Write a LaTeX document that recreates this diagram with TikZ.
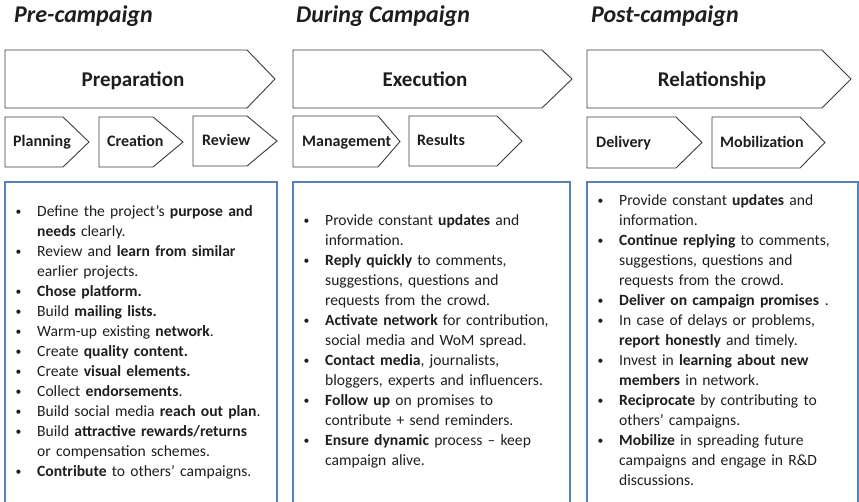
\documentclass[tikz,border=0pt]{standalone}
\usepackage{fontspec}
\setmainfont{Carlito}
\definecolor{txt}{HTML}{1E1E1E}
\definecolor{chevline}{HTML}{3C3C3C}
\definecolor{boxline}{HTML}{5A80B8}
\newcommand\chevron[5]{%
  \draw[chev] (#1,#4) -- (#2,#4) -- (#3,{(#4+#5)/2}) -- (#2,#5) -- (#1,#5) -- cycle;}
\newcommand\bitem{\leavevmode\llap{\makebox[22pt][l]{\hspace{0.5pt}\raisebox{0.8pt}{\scalebox{0.75}{\textbullet}}}}}
\begin{document}
\begin{tikzpicture}[x=1pt,y=-1pt,
  every node/.style={text=txt},
  chev/.style={draw=chevline, line width=0.9pt, line join=miter},
  boxframe/.style={draw=boxline, line width=1.2pt},
  hdr/.style={anchor=base west, inner sep=0, font=\fontsize{24}{28}\selectfont\bfseries\itshape},
  mainlbl/.style={anchor=base, inner sep=0, font=\fontsize{21}{25}\selectfont\bfseries},
  sublbl/.style={anchor=base west, inner sep=0, font=\fontsize{16}{19}\selectfont\bfseries},
  listtext/.style={anchor=base west, inner sep=0, align=left, text width=300pt, font=\fontsize{15.6}{20}\selectfont}]
\useasboundingbox[fill=white] (0,0) rectangle (859,502);

% headers
\node[hdr] (hpre) at (14,23) {Pre-campaign};
\node[hdr] (hdur) at (296,23) {During Campaign};
\node[hdr] (hpost) at (591,23) {Post-campaign};

% main chevrons
\chevron{5}{247}{275}{50}{108}
\chevron{293}{542}{572}{50}{108}
\chevron{587}{822}{851}{50}{108}
\node[mainlbl] (prep) at (133,87) {Preparation};
\node[mainlbl] (exec) at (425,87) {Execution};
\node[mainlbl] (rel) at (712,87) {Relationship};

% sub chevrons
\chevron{5}{63}{89}{117}{167}
\chevron{99}{153}{183}{117}{167}
\chevron{193}{247}{277}{116}{166}
\chevron{293}{378}{400}{116}{167}
\chevron{409}{497}{522}{116}{166}
\chevron{587}{676}{702}{117}{168}
\chevron{712}{800}{825}{117}{168}
\node[sublbl] (plan) at (13,147) {Planning};
\node[sublbl] (crea) at (107,147) {Creation};
\node[sublbl] (revi) at (202,146) {Review};
\node[sublbl] (mana) at (302,147) {Management};
\node[sublbl] (resu) at (417,146) {Results};
\node[sublbl] (deli) at (596,148) {Delivery};
\node[sublbl] (mobi) at (720,148) {Mobilization};

% list boxes (open at the bottom)
\draw[boxframe] (5,504) -- (5,182) -- (277,182) -- (277,504);
\draw[boxframe] (293,504) -- (293,182) -- (570,182) -- (570,504);
\draw[boxframe] (587,504) -- (587,182) -- (858,182) -- (858,504);

\node[listtext] (lpre) at (37,216.7) {%
\bitem Define the project’s \textbf{purpose and}\\
\textbf{needs} clearly.\\
\bitem Review and \textbf{learn from similar}\\
earlier projects.\\
\bitem\textbf{Chose platform.}\\
\bitem Build \textbf{mailing lists.}\\
\bitem Warm-up existing \textbf{network}.\\
\bitem Create \textbf{quality content.}\\
\bitem Create \textbf{visual elements.}\\
\bitem Collect \textbf{endorsements}.\\
\bitem Build social media \textbf{reach out plan}.\\
\bitem Build \textbf{attractive rewards/returns}\\
or compensation schemes.\\
\bitem\textbf{Contribute} to others’ campaigns.};

\node[listtext] (ldur) at (325,225.7) {%
\bitem Provide constant \textbf{updates} and\\
information.\\
\bitem\textbf{Reply quickly} to comments,\\
suggestions, questions and\\
requests from the crowd.\\
\bitem\textbf{Activate network} for contribution,\\
social media and WoM spread.\\
\bitem\textbf{Contact media}, journalists,\\
bloggers, experts and influencers.\\
\bitem\textbf{Follow up} on promises to\\
contribute + send reminders.\\
\bitem\textbf{Ensure dynamic} process – keep\\
campaign alive.};

\node[listtext] (lpost) at (619,205.7) {%
\bitem Provide constant \textbf{updates} and\\
information.\\
\bitem\textbf{Continue replying} to comments,\\
suggestions, questions and\\
requests from the crowd.\\
\bitem\textbf{Deliver on campaign promises}\hspace{6pt}.\\
\bitem In case of delays or problems,\\
\textbf{report honestly} and timely.\\
\bitem Invest in \textbf{learning about new}\\
\textbf{members} in network.\\
\bitem\textbf{Reciprocate} by contributing to\\
others’ campaigns.\\
\bitem\textbf{Mobilize} in spreading future\\
campaigns and engage in R\&D\\
discussions.};
\end{tikzpicture}
\end{document}
